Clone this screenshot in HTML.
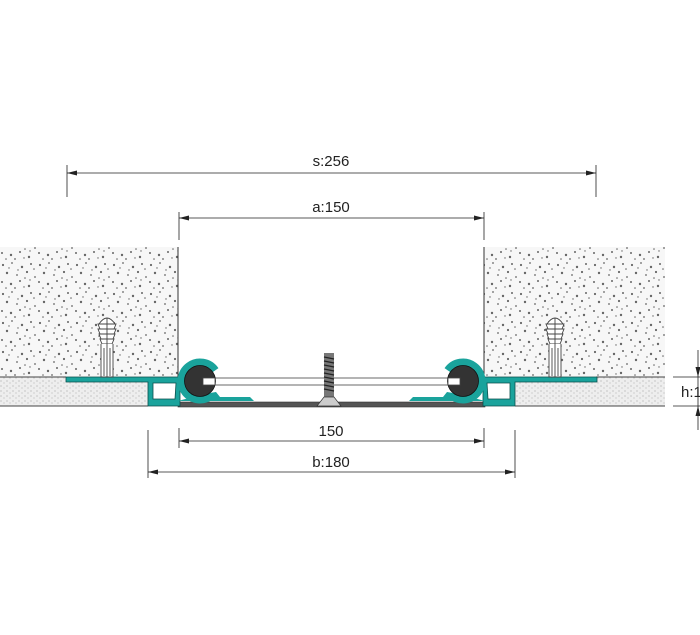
<!DOCTYPE html>
<html><head><meta charset="utf-8"><style>
html,body{margin:0;padding:0;background:#fff}
svg{display:block}
text{font-family:"Liberation Sans",sans-serif;font-size:15px;fill:#222}
</style></head><body>
<svg width="700" height="635" viewBox="0 0 700 635" xmlns="http://www.w3.org/2000/svg">
<defs>
<pattern id="st" width="37" height="29" patternUnits="userSpaceOnUse">
<rect width="37" height="29" fill="#f7f7f7"/>
<g fill="#666">
<circle cx="3" cy="4" r="1.1"/><circle cx="12" cy="2" r="0.9"/><circle cx="22" cy="6" r="1.2"/><circle cx="31" cy="3" r="1"/>
<circle cx="7" cy="12" r="1.2"/><circle cx="17" cy="14" r="0.9"/><circle cx="27" cy="11" r="1.1"/><circle cx="35" cy="16" r="0.9"/>
<circle cx="2" cy="21" r="1"/><circle cx="11" cy="23" r="1.2"/><circle cx="20" cy="20" r="1"/><circle cx="29" cy="25" r="1.2"/>
<circle cx="15" cy="27" r="0.9"/><circle cx="34" cy="8" r="0.8"/><circle cx="25" cy="17" r="0.8"/><circle cx="6" cy="27" r="0.8"/>
<circle cx="9" cy="7" r="0.7"/><circle cx="30" cy="19" r="0.7"/><circle cx="18" cy="9" r="0.7"/><circle cx="24" cy="26" r="0.7"/>
</g></pattern>
<pattern id="st2" width="6" height="5" patternUnits="userSpaceOnUse">
<rect width="6" height="5" fill="#eee"/><circle cx="1" cy="1" r="0.6" fill="#aaa"/><circle cx="4" cy="3" r="0.6" fill="#bbb"/>
</pattern>
<g id="anchor" stroke="#444" stroke-width="0.9">
<path d="M-8,6 Q0,-6 8,6 Z" fill="#fff"/>
<path d="M-9,6 L9,6 L7,11 L-7,11 Z M-9,11 L9,11 L7,16 L-7,16 Z M-8,16 L8,16 L6,21 L-6,21 Z M-7,21 L7,21 L5,26 L-5,26 Z" fill="#fff"/>
<path d="M-6,26 L-6,59 L6,59 L6,26" fill="#fff"/><line x1="0" y1="0" x2="0" y2="59"/><line x1="-3" y1="30" x2="-3" y2="58"/><line x1="3" y1="30" x2="3" y2="58"/>
</g>
<g id="prof">
<path d="M66,377 L180,377 L180,406 L148,406 L148,382 L66,382 Z M153,383 L153,399 L175,399 L176,383 Z" fill="#1aa39c" stroke="#0b4f4b" stroke-width="0.8" fill-rule="evenodd"/>
<path d="M215.6,370.1 A19,19 0 1 0 212.2,395.6" fill="none" stroke="#1aa39c" stroke-width="7"/>
<path d="M204,394 L216,392 L220,397 L250,397 L254,401 L178,401 Z" fill="#1aa39c"/>
<circle cx="200" cy="381" r="15.5" fill="#333" stroke="#111" stroke-width="0.8"/>
</g>
</defs>
<rect x="0" y="247" width="178" height="130" fill="url(#st)"/>
<rect x="484" y="247" width="181" height="130" fill="url(#st)"/>
<rect x="0" y="377" width="148" height="29" fill="url(#st2)"/>
<rect x="515" y="377" width="150" height="29" fill="url(#st2)"/>
<line x1="178" y1="247" x2="178" y2="377" stroke="#333"/>
<line x1="484" y1="247" x2="484" y2="377" stroke="#333"/>
<line x1="0" y1="377" x2="66" y2="377" stroke="#444"/><line x1="596" y1="377" x2="665" y2="377" stroke="#444"/>
<line x1="0" y1="406" x2="148" y2="406" stroke="#444"/><line x1="515" y1="406" x2="665" y2="406" stroke="#444"/>
<rect x="205" y="378" width="252" height="7" fill="#fff" stroke="#444" stroke-width="0.8"/>
<rect x="178" y="402" width="307" height="5" fill="#555" stroke="#333" stroke-width="0.6"/>
<use href="#prof"/>
<use href="#prof" transform="translate(663,0) scale(-1,1)"/>
<rect x="203" y="378" width="12" height="7" fill="#fff" stroke="#444" stroke-width="0.8"/>
<rect x="448" y="378" width="12" height="7" fill="#fff" stroke="#444" stroke-width="0.8"/>
<g transform="translate(329,0)">
<rect x="-5" y="353" width="10" height="44" fill="#777"/>
<g stroke="#222" stroke-width="1.3">
<line x1="-5" y1="357" x2="5" y2="359"/><line x1="-5" y1="361" x2="5" y2="363"/><line x1="-5" y1="365" x2="5" y2="367"/><line x1="-5" y1="369" x2="5" y2="371"/><line x1="-5" y1="373" x2="5" y2="375"/><line x1="-5" y1="377" x2="5" y2="379"/><line x1="-5" y1="381" x2="5" y2="383"/><line x1="-5" y1="385" x2="5" y2="387"/><line x1="-5" y1="389" x2="5" y2="391"/></g>
<path d="M-5,397 L5,397 L12,406 L-12,406 Z" fill="#ccc" stroke="#333" stroke-width="0.7"/>
</g>
<use href="#anchor" transform="translate(107,318)"/>
<use href="#anchor" transform="translate(555,318)"/>
<g stroke="#222" stroke-width="0.8" fill="none">
<line x1="67" y1="165" x2="67" y2="197"/><line x1="596" y1="165" x2="596" y2="197"/><line x1="67" y1="173" x2="596" y2="173"/>
<line x1="179" y1="212" x2="179" y2="240"/><line x1="484" y1="212" x2="484" y2="240"/><line x1="179" y1="218" x2="484" y2="218"/>
<line x1="179" y1="428" x2="179" y2="448"/><line x1="484" y1="428" x2="484" y2="448"/><line x1="179" y1="441" x2="484" y2="441"/>
<line x1="148" y1="430" x2="148" y2="478"/><line x1="515" y1="430" x2="515" y2="478"/><line x1="148" y1="472" x2="515" y2="472"/>
<line x1="673" y1="377" x2="700" y2="377"/><line x1="673" y1="406" x2="700" y2="406"/>
<line x1="698" y1="350" x2="698" y2="430"/>
</g>
<g fill="#222">
<path d="M67,173 l10,-2.5 v5z"/><path d="M596,173 l-10,-2.5 v5z"/>
<path d="M179,218 l10,-2.5 v5z"/><path d="M484,218 l-10,-2.5 v5z"/>
<path d="M179,441 l10,-2.5 v5z"/><path d="M484,441 l-10,-2.5 v5z"/>
<path d="M148,472 l10,-2.5 v5z"/><path d="M515,472 l-10,-2.5 v5z"/>
<path d="M698,377 l-2.5,-10 h5z"/><path d="M698,406 l-2.5,10 h5z"/>
</g>
<text x="331" y="166" text-anchor="middle">s:256</text>
<text x="331" y="212" text-anchor="middle">a:150</text>
<text x="331" y="436" text-anchor="middle">150</text>
<text x="331" y="467" text-anchor="middle">b:180</text>
<text x="681" y="397">h:1</text>
</svg>
</body></html>
